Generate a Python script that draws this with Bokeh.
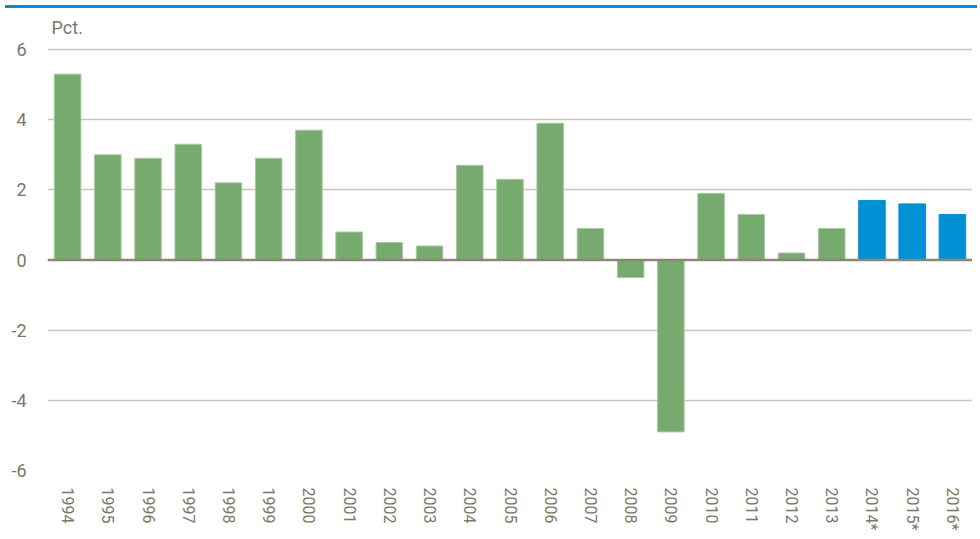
import math
from bokeh.plotting import figure
from bokeh.models import ColumnDataSource, FixedTicker, Span, Div, Range1d, PrintfTickFormatter
from bokeh.layouts import column
from bokeh.core.properties import value
from bokeh.embed import file_html
from bokeh.resources import INLINE

years = ["1994", "1995", "1996", "1997", "1998", "1999", "2000", "2001", "2002",
         "2003", "2004", "2005", "2006", "2007", "2008", "2009", "2010", "2011",
         "2012", "2013", "2014*", "2015*", "2016*"]
growth = [5.3, 3.0, 2.9, 3.3, 2.2, 2.9, 3.7, 0.8, 0.5, 0.4, 2.7, 2.3, 3.9, 0.9,
          -0.5, -4.9, 1.9, 1.3, 0.2, 0.9, 1.7, 1.6, 1.3]
is_forecast = [False] * 20 + [True] * 3
y_ticks = [-6, -4, -2, 0, 2, 4, 6]
unit_label = "Pct."

GREEN = "#77aa6f"
BLUE = "#0090d4"
TEXT = "#7a7866"
FONT = "Roboto"

colors = [BLUE if f else GREEN for f in is_forecast]
lines = ["#0090d4" if f else "#a8c8a2" for f in is_forecast]
src = ColumnDataSource(dict(x=years, top=growth, color=colors, line=lines))

p = figure(x_range=years, y_range=Range1d(-6, 7.0), width=972, height=520,
           output_backend="svg", toolbar_location=None,
           min_border_left=47, min_border_right=0, min_border_top=1,
           min_border_bottom=56)
p.x_range.range_padding = 0
p.outline_line_color = None
p.background_fill_color = "white"

p.vbar(x="x", top="top", bottom=0, width=0.66, fill_color="color",
       line_color="line", line_width=1, source=src)

p.add_layout(Span(location=0, dimension="width", line_color="#8a8776",
                  line_width=2.5))

p.yaxis.ticker = FixedTicker(ticks=y_ticks)
p.yaxis.formatter = PrintfTickFormatter(format="%d")
p.ygrid.ticker = FixedTicker(ticks=[t for t in y_ticks if t != 0])
p.ygrid.grid_line_color = "#c9c6b9"
p.ygrid.grid_line_width = 1.5
p.xgrid.grid_line_color = None

for ax in (p.xaxis[0], p.yaxis[0]):
    ax.axis_line_color = None
    ax.major_tick_line_color = None
    ax.minor_tick_line_color = None
    ax.major_label_text_font = FONT
    ax.major_label_text_color = TEXT

p.yaxis.major_label_standoff = 15
p.yaxis.major_label_text_font_size = "18px"
p.xaxis.major_label_text_font_size = "16px"
p.xaxis.major_label_standoff = 11
p.xaxis.major_label_orientation = -math.pi / 2

p.text(x=[years[0]], y=[6.63], text=[unit_label], x_offset=-16,
       text_font=value(FONT), text_font_size="18px", text_color=TEXT,
       text_baseline="middle", text_align="left")

bar = Div(text="", width=972, height=3,
          styles={"background-color": "#0a8bd0"})

layout = column(bar, p, spacing=0)
open("out.html", "w").write(file_html(layout, INLINE))
